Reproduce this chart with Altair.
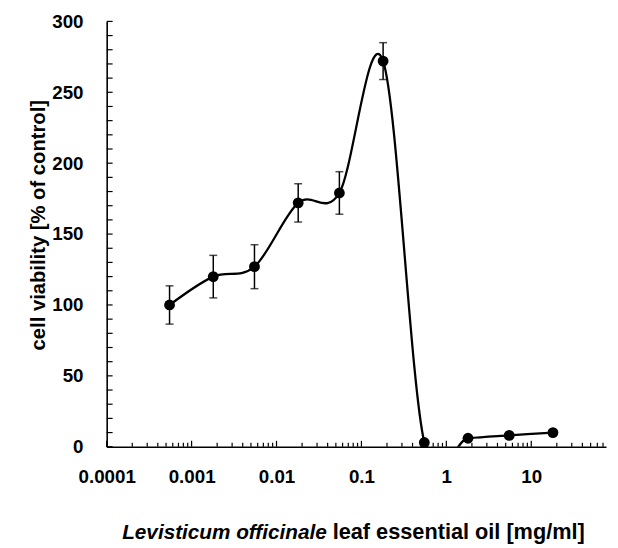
import altair as alt
import pandas as pd

# ---- data ----
conc = [0.00055, 0.0018, 0.0055, 0.018, 0.055, 0.18, 0.55, 1.8, 5.5, 18]
viability = [100, 120, 127, 172, 179, 272, 3, 6, 8, 10]
sd = [13.5, 15, 15.5, 13.5, 15, 13, 0, 0, 0, 0]

x_label_values = [0.0001, 0.001, 0.01, 0.1, 1, 10]
y_label_values = [0, 50, 100, 150, 200, 250, 300]
x_domain = [0.0001, 76]
y_domain = [0, 300]

y_title = "cell viability [% of control]"
x_title_italic = "Levisticum officinale"
x_title_plain = "leaf essential oil [mg/ml]"

FONT = "Liberation Sans"
W, H = 506, 431

df = pd.DataFrame({"conc": conc, "v": viability, "sd": sd})
df["lo"] = df["v"] - df["sd"]
df["hi"] = df["v"] + df["sd"]
err_df = df[df["sd"] > 0]

# minor/major tick positions for the inward axis ticks
x_minor = []
for d in range(-4, 2):
    for k in range(1, 10):
        val = k * 10.0 ** d
        if x_domain[0] <= val <= x_domain[1]:
            x_minor.append({"t": val, "major": k == 1})
xt_df = pd.DataFrame(x_minor)
yt_df = pd.DataFrame({"t": list(range(0, 301, 10))})

xscale = alt.Scale(type="log", domain=x_domain, nice=False)
yscale = alt.Scale(domain=y_domain, nice=False, zero=False)

xaxis = alt.Axis(values=x_label_values, format="~g", title=None, ticks=False,
                 grid=False, domain=True, domainColor="black", domainWidth=1.6,
                 labelFont=FONT, labelFontSize=19, labelFontWeight="bold",
                 labelColor="black", labelPadding=21, labelFlush=False)
yaxis = alt.Axis(values=y_label_values, title=y_title, ticks=False, grid=False,
                 domain=True, domainColor="black", domainWidth=1.6,
                 labelFont=FONT, labelFontSize=19, labelFontWeight="bold",
                 labelColor="black", labelPadding=24,
                 titleFont=FONT, titleFontSize=20.5, titleFontWeight="bold",
                 titleColor="black", titleX=-63, titleY=206,
                 titleBaseline="alphabetic", titleAngle=-90)

base = alt.Chart(df)

line = base.mark_line(interpolate="cardinal", clip=True, color="black",
                      strokeWidth=2.3).encode(
    x=alt.X("conc:Q", scale=xscale, axis=xaxis),
    y=alt.Y("v:Q", scale=yscale, axis=yaxis),
)

points = base.mark_circle(size=120, color="black", opacity=1).encode(
    x=alt.X("conc:Q", scale=xscale),
    y=alt.Y("v:Q", scale=yscale),
)

err_rule = alt.Chart(err_df).mark_rule(color="black", strokeWidth=1.5).encode(
    x=alt.X("conc:Q", scale=xscale),
    y=alt.Y("lo:Q", scale=yscale),
    y2="hi:Q",
)
cap_hi = alt.Chart(err_df).mark_tick(color="black", thickness=1.5, size=8,
                                     orient="horizontal").encode(
    x=alt.X("conc:Q", scale=xscale),
    y=alt.Y("hi:Q", scale=yscale),
)
cap_lo = alt.Chart(err_df).mark_tick(color="black", thickness=1.5, size=8,
                                     orient="horizontal").encode(
    x=alt.X("conc:Q", scale=xscale),
    y=alt.Y("lo:Q", scale=yscale),
)

xticks_minor = alt.Chart(xt_df).transform_filter("!datum.major").mark_rule(
    color="black", strokeWidth=1.2).encode(
    x=alt.X("t:Q", scale=xscale),
    y=alt.value(H), y2=alt.value(H - 4),
)
xticks_major = alt.Chart(xt_df).transform_filter("datum.major").mark_rule(
    color="black", strokeWidth=1.2).encode(
    x=alt.X("t:Q", scale=xscale),
    y=alt.value(H), y2=alt.value(H - 6),
)
yticks = alt.Chart(yt_df).mark_rule(color="black", strokeWidth=1.2).encode(
    y=alt.Y("t:Q", scale=yscale),
    x=alt.value(0), x2=alt.value(6),
)

title_df = pd.DataFrame({"a": [x_title_italic], "b": [x_title_plain]})
t1 = alt.Chart(title_df).mark_text(font=FONT, fontSize=21, fontWeight="bold",
                                   fontStyle="italic", align="right",
                                   baseline="alphabetic", color="black").encode(
    text="a:N", x=alt.value(223), y=alt.value(524))
t2 = alt.Chart(title_df).mark_text(font=FONT, fontSize=22, fontWeight="bold",
                                   align="left", baseline="alphabetic",
                                   color="black").encode(
    text="b:N", x=alt.value(229), y=alt.value(524))

chart = alt.layer(xticks_minor, xticks_major, yticks, line, err_rule, cap_hi,
                  cap_lo, points, t1, t2).properties(
    width=W, height=H,
    autosize=alt.AutoSizeParams(type="none"),
    padding={"left": 100, "top": 10, "right": 4, "bottom": 98},
    background="white",
).configure_view(stroke=None)

chart.save("out.html", embed_options={"renderer": "svg", "actions": False})
